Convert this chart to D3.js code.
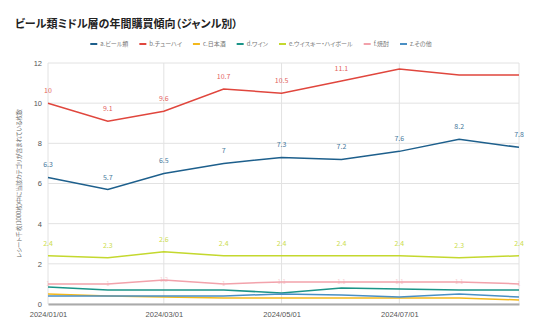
<!DOCTYPE html>
<html>
<head>
<meta charset="utf-8">
<script src="https://cdn.jsdelivr.net/npm/d3@7"></script>
<style>
  body { margin: 0; background: #fff; }
  svg { font-family: "Noto Sans CJK JP", "Noto Sans", sans-serif; font-feature-settings: "palt"; }
</style>
</head>
<body>
<div id="chart"></div>
<script>
// monthly points, Jan - Sep 2024
const months = ["2024-01-01", "2024-02-01", "2024-03-01", "2024-04-01", "2024-05-01",
                "2024-06-01", "2024-07-01", "2024-08-01", "2024-09-01"];
const xTicks = ["2024-01-01", "2024-03-01", "2024-05-01", "2024-07-01"];
const yTicks = [0, 2, 4, 6, 8, 10, 12];

const genres = ["a.ビール類", "b.チューハイ", "c.日本酒", "d.ワイン", "e.ウイスキー・ハイボール", "f.焼酎", "z.その他"];
const colors = ["#1d5f8c", "#e0463d", "#f3b81c", "#1b9488", "#c4d82e", "#f2a2ab", "#4a8fc4"];

const beer    = [6.3, 5.7, 6.5, 7, 7.3, 7.2, 7.6, 8.2, 7.8];
const chuhai  = [10, 9.1, 9.6, 10.7, 10.5, 11.1, 11.7, 11.4, 11.4];
const sake    = [0.5, 0.4, 0.35, 0.3, 0.3, 0.3, 0.3, 0.3, 0.2];
const wine    = [0.85, 0.7, 0.7, 0.7, 0.55, 0.8, 0.75, 0.7, 0.7];
const whisky  = [2.4, 2.3, 2.6, 2.4, 2.4, 2.4, 2.4, 2.3, 2.4];
const shochu  = [1.0, 1.0, 1.2, 1.0, 1.1, 1.1, 1.1, 1.1, 1.0];
const others  = [0.4, 0.4, 0.4, 0.4, 0.5, 0.45, 0.35, 0.5, 0.35];

// which series carry value labels, and where
const labelled = { 0: "above", 1: "above", 4: "above", 5: "on" };

const series = [beer, chuhai, sake, wine, whisky, shochu, others];

const width = 536, height = 332;
const margin = { top: 63, right: 17, bottom: 28, left: 48 };

const parse = d3.timeParse("%Y-%m-%d");
const fmt = d3.timeFormat("%Y/%m/%d");

const x = d3.scaleTime()
    .domain([parse(months[0]), parse(months[months.length - 1])])
    .range([margin.left, width - margin.right]);
const y = d3.scaleLinear()
    .domain([0, 12])
    .range([height - margin.bottom, margin.top]);

const svg = d3.select("#chart").append("svg")
    .attr("width", width)
    .attr("height", height);

svg.append("text")
    .attr("x", 15).attr("y", 28)
    .attr("font-size", 11).attr("font-weight", "bold").attr("fill", "#222")
    .text("ビール類ミドル層の年間購買傾向（ジャンル別）");

// legend, centred over the plot
const legend = svg.append("g").attr("font-size", 6).attr("fill", "#777");
const items = [];
let lx = 0;
genres.forEach((g, i) => {
  const it = legend.append("g");
  it.append("line")
      .attr("x1", 0).attr("x2", 7).attr("y1", 0).attr("y2", 0)
      .attr("stroke", colors[i]).attr("stroke-width", 2);
  const t = it.append("text").attr("x", 10).attr("y", 2.2).text(g);
  items.push([it, lx]);
  lx += 10 + t.node().getComputedTextLength() + 11;
});
const legendStart = 261 - (lx - 11) / 2;
items.forEach(([it, off]) => it.attr("transform", `translate(${legendStart + off},44)`));

// grid
svg.append("g").selectAll("line").data(yTicks).join("line")
    .attr("x1", margin.left).attr("x2", width - margin.right)
    .attr("y1", d => y(d)).attr("y2", d => y(d))
    .attr("stroke", "#e2e2e2");
svg.append("g").selectAll("line").data(xTicks.concat([months[months.length - 1]])).join("line")
    .attr("x1", d => x(parse(d))).attr("x2", d => x(parse(d)))
    .attr("y1", y(0)).attr("y2", y(12))
    .attr("stroke", "#e2e2e2");

// axes
const yAxis = svg.append("g")
    .attr("transform", `translate(${margin.left},0)`)
    .call(d3.axisLeft(y).tickValues(yTicks).tickSize(0).tickPadding(6));
yAxis.select(".domain").remove();
yAxis.selectAll("text").attr("font-size", 7.5).attr("fill", "#555");

const xAxis = svg.append("g")
    .attr("transform", `translate(0,${y(0)})`)
    .call(d3.axisBottom(x).tickValues(xTicks.map(parse)).tickFormat(fmt).tickSize(0).tickPadding(8));
xAxis.select(".domain").attr("stroke", "#aaa").attr("stroke-width", 2);
xAxis.selectAll("text").attr("font-size", 7.5).attr("fill", "#555");

svg.append("text")
    .attr("transform", `translate(21,${(y(0) + y(12)) / 2}) rotate(-90)`)
    .attr("text-anchor", "middle")
    .attr("font-size", 5.8).attr("fill", "#666")
    .text("レシート千枚(1000枚)中に当該カテゴリが含まれている枚数");

// lines
const line = d3.line()
    .x((d, i) => x(parse(months[i])))
    .y(d => y(d));

svg.append("g").selectAll("path").data(series).join("path")
    .attr("fill", "none")
    .attr("stroke", (d, i) => colors[i])
    .attr("stroke-width", 1.5)
    .attr("d", line);

// value labels
Object.keys(labelled).forEach(k => {
  const i = +k;
  const pos = labelled[k];
  svg.append("g").selectAll("text").data(series[i]).join("text")
      .filter((d, j) => !(i === 1 && j > 5))
      .attr("x", (d, j) => x(parse(months[j])))
      .attr("y", d => pos === "above" ? y(d) - 10 : y(d) + 2.5)
      .attr("text-anchor", "middle")
      .attr("font-size", pos === "above" ? 7 : 6)
      .attr("fill", colors[i])
      .attr("opacity", pos === "above" ? 0.85 : 0.5)
      .text(d => d);
});
</script>
</body>
</html>
